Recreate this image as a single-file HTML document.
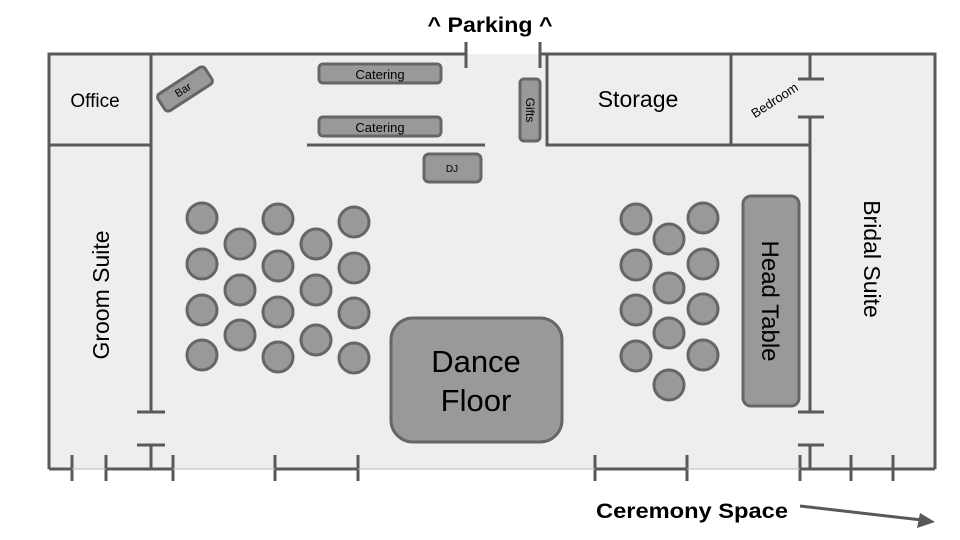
<!DOCTYPE html>
<html><head><style>html,body{margin:0;padding:0;background:#fff}svg{display:block}</style></head>
<body>
<svg width="960" height="540" viewBox="0 0 960 540" xmlns="http://www.w3.org/2000/svg" font-family="Liberation Sans, sans-serif">
<rect x="49" y="54" width="886" height="415" fill="#eeeeee"/>
<g stroke="#595959" stroke-width="3" fill="none">
<path d="M49 469 V54 H466 M540 54 H935 V469"/>
<path d="M466 42 V68 M540 42 V68"/>
<path d="M49 145 H151 M151 54 V412 M151 445 V469 M137 412 H165 M137 445 H165"/>
<path d="M547 54 V145 H810 M731 54 V145"/>
<path d="M810 54 V79 M810 117 V412 M810 445 V469 M798 79 H824 M798 117 H824 M798 412 H824 M798 445 H824"/>
<path d="M307 145 H485"/>
<path d="M49 469 H72 M106 469 H173 M275 469 H358 M595 469 H687 M800 469 H935"/>
<path d="M72 455 V481 M106 455 V481 M173 455 V481 M275 455 V481 M358 455 V481 M595 455 V481 M687 455 V481 M800 455 V481 M851 455 V481 M893 455 V481"/>
</g>
<g stroke="#bbb" stroke-width="1"><path d="M72 469 H106 M173 469 H275 M358 469 H595 M687 469 H800"/></g>
<g fill="#999" stroke="#666" stroke-width="3">
<rect x="319" y="64" width="122" height="19" rx="4"/>
<rect x="319" y="117" width="122" height="19" rx="4"/>
<rect x="424" y="154" width="57" height="28" rx="5"/>
<rect x="520" y="79" width="20" height="62" rx="4"/>
<rect x="-28" y="-10" width="56" height="20" rx="4" transform="translate(185,89) rotate(-33)"/>
<rect x="391" y="318" width="171" height="124" rx="22"/>
<rect x="743" y="196" width="56" height="210" rx="8"/>
<g>
<circle cx="202" cy="218" r="15"/><circle cx="202" cy="264" r="15"/><circle cx="202" cy="310" r="15"/><circle cx="202" cy="355" r="15"/>
<circle cx="240" cy="244" r="15"/><circle cx="240" cy="290" r="15"/><circle cx="240" cy="335" r="15"/>
<circle cx="278" cy="219" r="15"/><circle cx="278" cy="266" r="15"/><circle cx="278" cy="312" r="15"/><circle cx="278" cy="357" r="15"/>
<circle cx="316" cy="244" r="15"/><circle cx="316" cy="290" r="15"/><circle cx="316" cy="340" r="15"/>
<circle cx="354" cy="222" r="15"/><circle cx="354" cy="268" r="15"/><circle cx="354" cy="313" r="15"/><circle cx="354" cy="358" r="15"/>
<circle cx="636" cy="219" r="15"/><circle cx="636" cy="265" r="15"/><circle cx="636" cy="310" r="15"/><circle cx="636" cy="356" r="15"/>
<circle cx="669" cy="239" r="15"/><circle cx="669" cy="288" r="15"/><circle cx="669" cy="333" r="15"/><circle cx="669" cy="385" r="15"/>
<circle cx="703" cy="218" r="15"/><circle cx="703" cy="264" r="15"/><circle cx="703" cy="309" r="15"/><circle cx="703" cy="355" r="15"/>
</g>
</g>
<g fill="#000" text-anchor="middle">
<text x="490" y="32" font-size="21" font-weight="bold" textLength="125" lengthAdjust="spacingAndGlyphs">^ Parking ^</text>
<text x="95" y="107" font-size="19">Office</text>
<text x="638" y="107" font-size="23">Storage</text>
<text x="380" y="79" font-size="13">Catering</text>
<text x="380" y="132" font-size="13">Catering</text>
<text x="452" y="172" font-size="10">DJ</text>
<text font-size="11" transform="translate(185,93) rotate(-33)">Bar</text>
<text font-size="12" transform="translate(526,110) rotate(90)">Gifts</text>
<text font-size="13" transform="translate(777,104) rotate(-33)">Bedroom</text>
<text font-size="23" transform="translate(109,295) rotate(-90)">Groom Suite</text>
<text font-size="23" transform="translate(864,259) rotate(90)">Bridal Suite</text>
<text font-size="24" transform="translate(762,301) rotate(90)">Head Table</text>
<text x="476" y="372" font-size="31">Dance</text>
<text x="476" y="411" font-size="31">Floor</text>
<text x="692" y="518" font-size="21" font-weight="bold" textLength="192" lengthAdjust="spacingAndGlyphs">Ceremony Space</text>
</g>
<path d="M800 506 L922 520" stroke="#595959" stroke-width="3"/>
<path d="M935 522 L917 528 L920 513 Z" fill="#595959"/>
</svg>
</body></html>
